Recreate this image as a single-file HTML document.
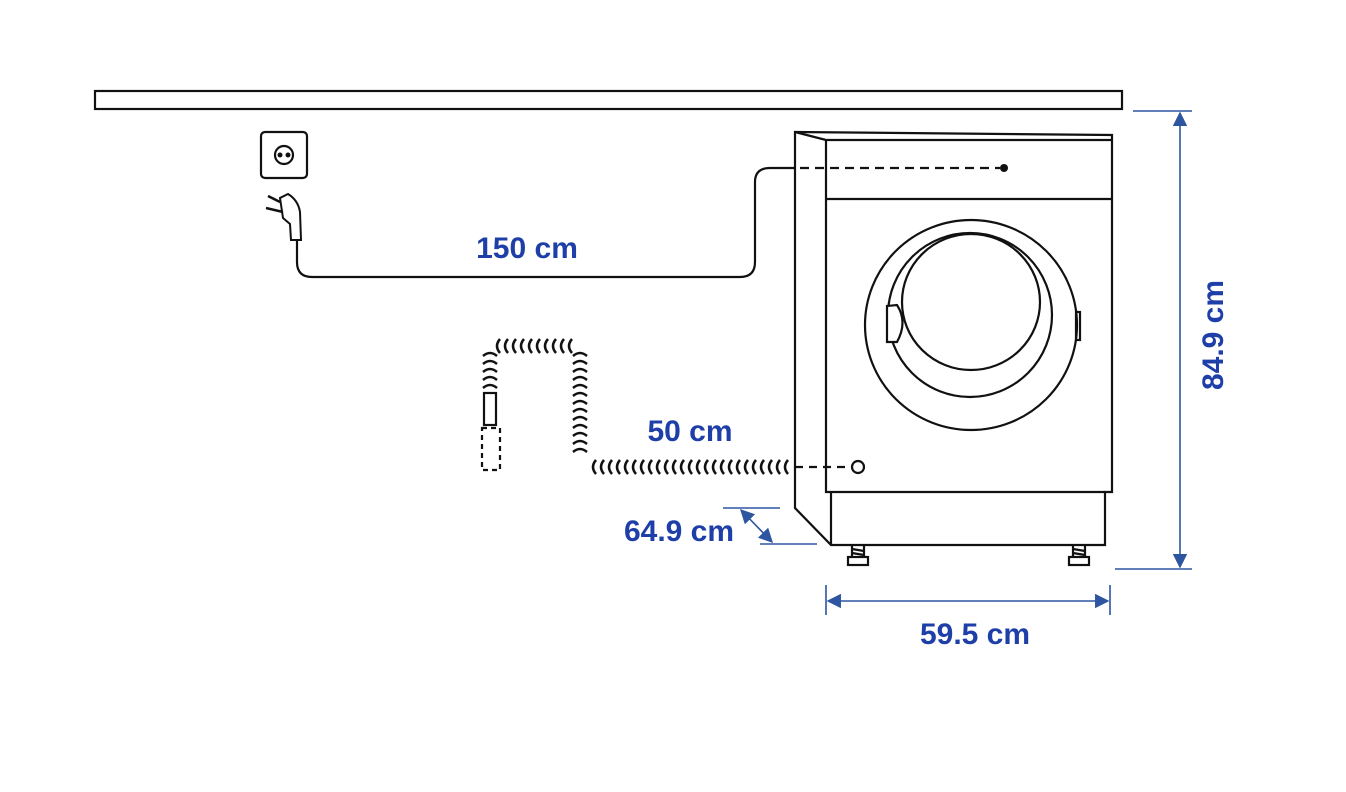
<!DOCTYPE html>
<html><head><meta charset="utf-8"><style>html,body{margin:0;padding:0;background:#fff}svg{display:block}</style></head>
<body>
<svg width="1346" height="792" viewBox="0 0 1346 792" xmlns="http://www.w3.org/2000/svg">
<defs>
<pattern id="ch1" x="494" y="336" width="8" height="20" patternUnits="userSpaceOnUse">
<path d="M6,3 Q0,10 6,17" fill="none" stroke="#111" stroke-width="2.5"/>
</pattern>
<pattern id="ch2" x="590" y="457" width="8" height="20" patternUnits="userSpaceOnUse">
<path d="M6,3 Q0,10 6,17" fill="none" stroke="#111" stroke-width="2.5"/>
</pattern>
<pattern id="cv1" x="480" y="350" width="20" height="8" patternUnits="userSpaceOnUse">
<path d="M3,6 Q10,0 17,6" fill="none" stroke="#111" stroke-width="2.5"/>
</pattern>
<pattern id="cv2" x="570" y="350" width="20" height="8" patternUnits="userSpaceOnUse">
<path d="M3,6 Q10,0 17,6" fill="none" stroke="#111" stroke-width="2.5"/>
</pattern>
<marker id="ar" viewBox="0 0 10 10" refX="9" refY="5" markerWidth="9" markerHeight="9" orient="auto-start-reverse"><path d="M0,0 L10,5 L0,10 z" fill="#2d55a0"/></marker>
</defs>
<g fill="none" stroke="#111" stroke-width="2.2">
<rect x="95" y="91" width="1027" height="18"/>
<rect x="261" y="132" width="46" height="46" rx="4"/>
<circle cx="284" cy="155" r="9"/>
<path d="M297,240 L297,262 Q297,277 312,277 L740,277 Q755,277 755,262 L755,182 Q755,168 770,168 L795,168"/>
<path d="M291,240 L301,240 L300,212 Q298,200 288,194 L280,198 L283,218 L290,224 Z" stroke-width="2"/>
<path d="M280,202 L268,196 M283,212 L266,208" stroke-width="2.5"/>
<path d="M800,168 L1000,168" stroke-dasharray="9,6"/>
<path d="M795,132 L1112,135 L1112,492 L1105,492 L1105,545 L831,545 L795,508 Z"/>
<path d="M795,132 L826,140 L1112,140"/>
<path d="M826,140 L826,492 L1105,492"/>
<path d="M831,492 L831,545"/>
<path d="M826,199 L1112,199"/>
<ellipse cx="971" cy="325" rx="106" ry="105"/>
<ellipse cx="970" cy="315" rx="82" ry="82"/>
<ellipse cx="971" cy="302" rx="69" ry="68"/>
<path d="M887,306 L897,305 Q908,322 897,342 L887,342 Z" fill="#fff"/>
<rect x="1076" y="312" width="4" height="28"/>
<rect x="848" y="557" width="20" height="8"/><path d="M852,545 L852,557 M864,545 L864,557 M852,549 L864,551 M852,553 L864,555"/>
<rect x="1069" y="557" width="20" height="8"/><path d="M1073,545 L1073,557 M1085,545 L1085,557 M1073,549 L1085,551 M1073,553 L1085,555"/>
<path d="M795,467 L852,467" stroke-dasharray="8,6"/>
<circle cx="858" cy="467" r="6"/>
<rect x="484" y="393" width="12" height="32"/>
<rect x="482" y="428" width="18" height="42" stroke-dasharray="5,4"/>
</g>
<rect x="480" y="350" width="20" height="40" fill="url(#cv1)"/>
<rect x="494" y="336" width="80" height="20" fill="url(#ch1)"/>
<rect x="570" y="350" width="20" height="104" fill="url(#cv2)"/>
<rect x="590" y="457" width="200" height="20" fill="url(#ch2)"/>
<g stroke="#2d55a0" stroke-width="1.6" fill="none">
<path d="M1133,111 L1192,111 M1115,569 L1192,569"/>
<line x1="1180" y1="113" x2="1180" y2="567" marker-start="url(#ar)" marker-end="url(#ar)"/>
<path d="M826,585 L826,615 M1110,585 L1110,615"/>
<line x1="828" y1="601" x2="1108" y2="601" marker-start="url(#ar)" marker-end="url(#ar)"/>
<path d="M723,508 L780,508 M760,544 L817,544"/>
<line x1="741" y1="510" x2="772" y2="542" marker-start="url(#ar)" marker-end="url(#ar)"/>
</g>
<g fill="#1f3fa8" font-family="Liberation Sans, sans-serif" font-weight="bold" font-size="30" text-anchor="middle">
<text x="527" y="258">150 cm</text>
<text x="690" y="441">50 cm</text>
<text x="679" y="541">64.9 cm</text>
<text x="975" y="644">59.5 cm</text>
<text transform="translate(1223,335) rotate(-90)">84.9 cm</text>
</g>
<g fill="#111"><circle cx="1004" cy="168" r="4"/><circle cx="280" cy="155" r="2.5"/><circle cx="288" cy="155" r="2.5"/></g>
</svg>
</body></html>
